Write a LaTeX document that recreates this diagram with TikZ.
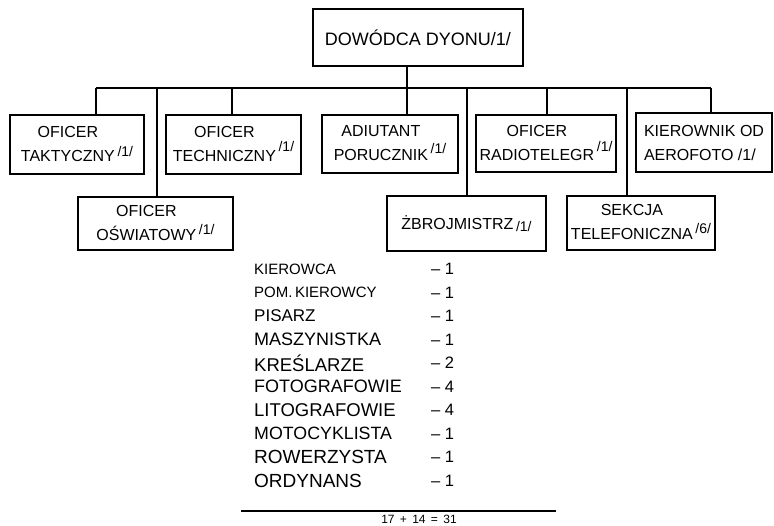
\documentclass[tikz,border=0pt]{standalone}
\usepackage{fontspec}
\setmainfont{Liberation Sans}
\usetikzlibrary{positioning}

\tikzset{
	unitbox/.style={draw=black,line width=1.1pt,inner sep=2pt,font=\fontsize{16}{24}\selectfont},
	tie/.style={line width=1.1pt},
	entry/.style={anchor=west,inner sep=0pt}
}
\newcommand{\liczba}[2][-3pt]{\,\raisebox{#1}{\fontsize{14}{14}\selectfont/#2/}}
\newcommand{\dwa}[2]{\begin{tabular}{@{}c@{}}#1\\#2\end{tabular}}

\begin{document}
\begin{tikzpicture}[x=1pt,y=-1pt]
		\useasboundingbox (0,0) rectangle (774,525);
		% dowodca
		\node[unitbox,minimum width=210pt,minimum height=57pt,font=\fontsize{18}{20}\selectfont] (dowodca) at (418,37.5) {DOWÓDCA DYONU/1/};
		% pierwszy rzad
		\node[unitbox,minimum width=134pt,minimum height=59pt] (taktyczny) at (77,144.5) {\dwa{OFICER}{TAKTYCZNY}\liczba[-8pt]{1}};
		\node[unitbox,minimum width=135pt,minimum height=59pt] (techniczny) at (233.5,144.5) {\dwa{OFICER}{TECHNICZNY}\liczba[-2.5pt]{1}};
		\node[unitbox,minimum width=136pt,minimum height=58pt] (adiutant) at (390,144) {\dwa{ADIUTANT}{PORUCZNIK}\liczba[-5.5pt]{1}};
		\node[unitbox,minimum width=140pt,minimum height=57pt] (radio) at (546,143.5) {\dwa{OFICER}{RADIOTELEGR}\liczba[-4pt]{1}};
		\node[unitbox,minimum width=136pt,minimum height=59pt,align=left] (aerofoto) at (704,142.5) {KIEROWNIK OD\\AEROFOTO /1/};
		% drugi rzad
		\node[unitbox,minimum width=155pt,minimum height=53pt] (oswiatowy) at (155.5,223.5) {\dwa{OFICER}{OŚWIATOWY}\liczba[-6.5pt]{1}};
		\node[unitbox,minimum width=159pt,minimum height=55pt] (zbrojmistrz) at (466.5,223.5) {\raisebox{-4pt}{ŻBROJMISTRZ}\liczba[-6pt]{1}};
		\node[unitbox,minimum width=148pt,minimum height=54pt] (sekcja) at (641,223) {\dwa{SEKCJA}{TELEFONICZNA}\liczba[-6.5pt]{6}};

		% szyna
		\coordinate (b1) at (96,88);
		\coordinate (b2) at (157,88);
		\coordinate (b3) at (232,88);
		\coordinate (b4) at (407,88);
		\coordinate (b5) at (467,88);
		\coordinate (b6) at (547,88);
		\coordinate (b7) at (627,88);
		\coordinate (b8) at (711,88);
		\draw[tie] (b4 |- dowodca.south) -- (b4);
		\draw[tie] (b1) -- (b8);
		\draw[tie] (b1) -- (b1 |- taktyczny.north);
		\draw[tie] (b2) -- (b2 |- oswiatowy.north);
		\draw[tie] (b3) -- (b3 |- techniczny.north);
		\draw[tie] (b4) -- (b4 |- adiutant.north);
		\draw[tie] (b5) -- (b5 |- zbrojmistrz.north);
		\draw[tie] (b6) -- (b6 |- radio.north);
		\draw[tie] (b7) -- (b7 |- sekcja.north);
		\draw[tie] (b8) -- (b8 |- aerofoto.north);

		% pozostali
		\foreach \nazwa/\ile/\rozm [count=\i] in {KIEROWCA/1/15,POM.\,KIEROWCY/1/15,PISARZ/1/17,MASZYNISTKA/1/18,KREŚLARZE/2/18.5,FOTOGRAFOWIE/4/18,LITOGRAFOWIE/4/18.5,MOTOCYKLISTA/1/17.8,ROWERZYSTA/1/19,ORDYNANS/1/19}{
			\node[entry,font=\fontsize{\rozm}{\rozm}\selectfont] (n\i) at (254,{269+(\i-1)*23.5}) {\nazwa};
			\node[entry,font=\fontsize{16.5}{16.5}\selectfont] (c\i) at (431,{269+(\i-1)*23.5}) {\textendash\ \ile};
		}
		\coordinate (kreskaL) at (241,511);
		\coordinate (kreskaP) at (556,511);
		\draw[line width=2.2pt] (kreskaL) -- (kreskaP);
		\node[font=\fontsize{12}{12}\selectfont,inner sep=0pt] (suma) at (419,519.5) {17 \,+\, 14 \,=\, 31};
	\end{tikzpicture}
\end{document}
